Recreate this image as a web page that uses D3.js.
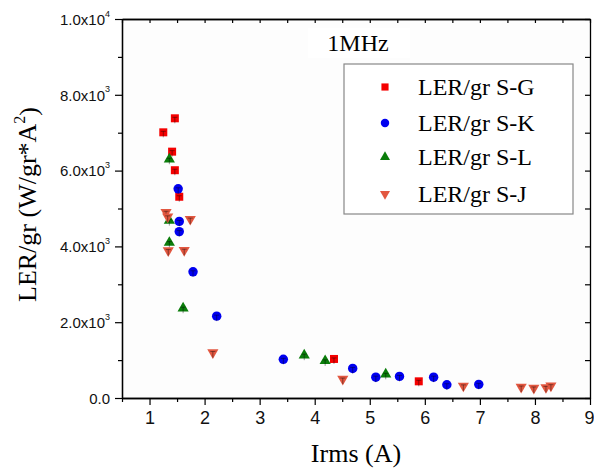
<!DOCTYPE html>
<html>
<head>
<meta charset="utf-8">
<script src="https://cdn.jsdelivr.net/npm/d3@7"></script>
<style>
  body { margin: 0; background: #fff; }
  svg { display: block; }
</style>
</head>
<body>
<div id="chart"></div>
<script>
// data: [Irms (A), LER/gr]
const seriesG = [[1.46, 7380], [1.25, 7010], [1.41, 6500], [1.46, 6010], [1.54, 5310], [4.35, 1030], [5.89, 440]];
const seriesK = [[1.52, 5520], [1.54, 4660], [1.54, 4390], [1.79, 3330], [2.22, 2160], [3.43, 1020], [4.69, 780],
                 [5.11, 550], [5.54, 570], [6.16, 550], [6.40, 350], [6.98, 360]];
const seriesL = [[1.36, 6300], [1.36, 4680], [1.36, 4100], [1.61, 2370], [3.81, 1130], [4.19, 980], [5.29, 625]];
const seriesJ = [[1.30, 4900], [1.33, 4780], [1.74, 4720], [1.34, 3890], [1.63, 3900], [2.15, 1200], [4.51, 500],
                 [6.70, 320], [7.75, 290], [7.98, 265], [8.20, 280], [8.29, 325]];

const seriesNames = ["LER/gr S-G", "LER/gr S-K", "LER/gr S-L", "LER/gr S-J"];
const xTicks = [1, 2, 3, 4, 5, 6, 7, 8, 9];
const yTicks = [0, 2000, 4000, 6000, 8000, 10000];

const width = 594, height = 468;
const margin = { left: 122, right: 4, top: 19, bottom: 70 };

const svg = d3.select("#chart").append("svg")
    .attr("width", width)
    .attr("height", height);

const x = d3.scaleLinear().domain([0.5, 9]).range([margin.left, width - margin.right]);
const y = d3.scaleLinear().domain([0, 10000]).range([height - margin.bottom, margin.top]);

const x0 = x.range()[0], x1 = x.range()[1];
const y0 = y.range()[0], y1 = y.range()[1];

const xMinor = d3.range(0.5, 9, 1);
const yMinor = d3.range(1000, 10000, 2000);

// frame
svg.append("rect")
    .attr("x", x0).attr("y", y1)
    .attr("width", x1 - x0).attr("height", y0 - y1)
    .attr("fill", "#fdfdfd").attr("stroke", "none");

function styleAxis(g) {
    g.select(".domain").attr("stroke", "#000").attr("stroke-width", 1.3);
    g.selectAll(".tick line").attr("stroke", "#000").attr("stroke-width", 1.2);
}

// bottom axis, outward ticks
svg.append("g").attr("transform", `translate(0,${y0})`)
    .call(d3.axisBottom(x).tickValues(xMinor).tickSize(4).tickFormat("").tickSizeOuter(0))
    .call(styleAxis);
const xAxisG = svg.append("g").attr("transform", `translate(0,${y0})`)
    .call(d3.axisBottom(x).tickValues(xTicks).tickSize(7).tickPadding(6).tickSizeOuter(0))
    .call(styleAxis);
xAxisG.selectAll("text")
    .attr("font-family", "Liberation Sans, Arial, sans-serif")
    .attr("font-size", 18).attr("fill", "#111")
    .attr("dx", d => d === 9 ? -1 : 0);

// top axis, inward ticks
svg.append("g").attr("transform", `translate(0,${y1})`)
    .call(d3.axisBottom(x).tickValues(xTicks.concat(xMinor)).tickSize(4).tickFormat("").tickSizeOuter(0))
    .call(styleAxis);

// left axis, outward ticks
svg.append("g").attr("transform", `translate(${x0},0)`)
    .call(d3.axisLeft(y).tickValues(yMinor).tickSize(4).tickFormat("").tickSizeOuter(0))
    .call(styleAxis);
const yAxisG = svg.append("g").attr("transform", `translate(${x0},0)`)
    .call(d3.axisLeft(y).tickValues(yTicks).tickSize(7).tickPadding(5).tickFormat("").tickSizeOuter(0))
    .call(styleAxis);

yAxisG.selectAll(".tick").each(function(d) {
    const t = d3.select(this).select("text")
        .attr("font-family", "Liberation Sans, Arial, sans-serif")
        .attr("font-size", 15).attr("fill", "#111")
        .attr("dy", "0.35em");
    if (d === 0) {
        t.text("0.0");
        return;
    }
    const exp = Math.floor(Math.log10(d));
    const mant = (d / Math.pow(10, exp)).toFixed(1);
    t.append("tspan").text(mant + "x10");
    t.append("tspan").attr("font-size", 9).attr("dy", "-0.9em").text(exp);
});

// right axis, inward ticks
svg.append("g").attr("transform", `translate(${x1},0)`)
    .call(d3.axisRight(y).tickValues(yTicks.concat(yMinor)).tickSize(-5).tickFormat("").tickSizeOuter(0))
    .call(styleAxis);
svg.append("g").attr("transform", `translate(0,${y1})`)
    .call(d3.axisTop(x).tickValues([]).tickSizeOuter(0))
    .call(styleAxis);

// axis titles
svg.append("text")
    .attr("x", (x0 + x1) / 2).attr("y", 462)
    .attr("text-anchor", "middle")
    .attr("font-family", "Liberation Serif, Times New Roman, serif")
    .attr("font-size", 26)
    .text("Irms (A)");

const yTitle = svg.append("text")
    .attr("transform", `translate(36,${(y0 + y1) / 2 - 4}) rotate(-90)`)
    .attr("text-anchor", "middle")
    .attr("font-family", "Liberation Serif, Times New Roman, serif")
    .attr("font-size", 26);
yTitle.append("tspan").text("LER/gr (W/gr*A");
yTitle.append("tspan").attr("font-size", 16).attr("dy", "-0.7em").text("2");
yTitle.append("tspan").attr("dy", "0.45em").text(")");

// 1MHz label
svg.append("rect").attr("x", 308).attr("y", 28).attr("width", 102).attr("height", 30).attr("fill", "#fff");
svg.append("text")
    .attr("x", 358).attr("y", 51)
    .attr("text-anchor", "middle")
    .attr("font-family", "Liberation Serif, Times New Roman, serif")
    .attr("font-size", 24)
    .text("1MHz");

// markers
const series = [
    { name: seriesNames[0], data: seriesG, color: "#f40000", type: d3.symbolSquare, size: 64, rot: 0 },
    { name: seriesNames[1], data: seriesK, color: "#0000f0", type: d3.symbolCircle, size: 70, rot: 0 },
    { name: seriesNames[2], data: seriesL, color: "#0a7d0a", type: d3.symbolTriangle, size: 54, rot: 0 },
    { name: seriesNames[3], data: seriesJ, color: "#e25740", type: d3.symbolTriangle, size: 54, rot: 180 }
];

series.forEach(s => {
    const g = svg.append("g");
    const pts = g.selectAll("g.pt").data(s.data).enter().append("g")
        .attr("class", "pt")
        .attr("transform", d => `translate(${x(d[0])},${y(d[1])})`);
    pts.append("path")
        .attr("d", d3.symbol().type(s.type).size(s.size))
        .attr("transform", `rotate(${s.rot})`)
        .attr("fill", s.color);
    // small error bars
    pts.append("path")
        .attr("d", "M-2.5,-1H2.5M0,-1V5")
        .attr("stroke", "#000").attr("stroke-opacity", 0.45)
        .attr("stroke-width", 0.9).attr("fill", "none");
});

// legend
const legend = svg.append("g");
legend.append("rect")
    .attr("x", 344).attr("y", 64).attr("width", 229).attr("height", 150)
    .attr("fill", "#fff").attr("stroke", "#888").attr("stroke-width", 1.2);
const legendRows = [87, 123, 157, 194];
series.forEach((s, i) => {
    legend.append("path")
        .attr("d", d3.symbol().type(s.type).size(s.size * 0.8))
        .attr("transform", `translate(385,${legendRows[i]}) rotate(${s.rot})`)
        .attr("fill", s.color);
    legend.append("text")
        .attr("x", 418).attr("y", legendRows[i] + 8)
        .attr("font-family", "Liberation Serif, Times New Roman, serif")
        .attr("font-size", 24)
        .text(s.name);
});
</script>
</body>
</html>
